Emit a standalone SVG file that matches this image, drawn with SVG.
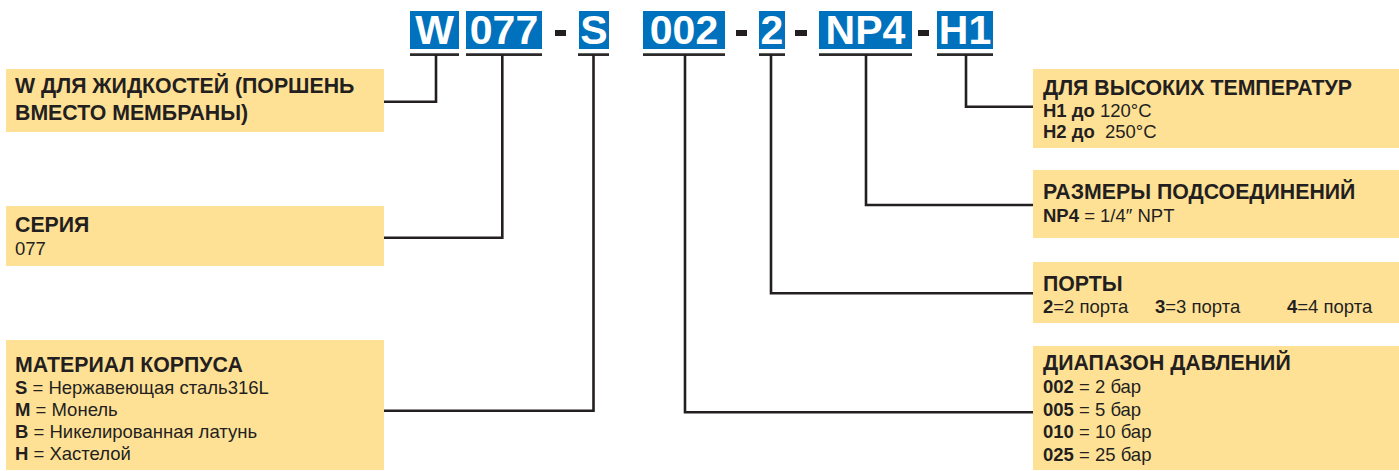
<svg xmlns="http://www.w3.org/2000/svg" width="1399" height="471" viewBox="0 0 1399 471">
<style>
.box{fill:#FFE196}
.code{fill:#0071BC}
.ct{font-family:"Liberation Sans",Arial,sans-serif;font-weight:bold;font-size:41px;fill:#fff;text-anchor:middle}
.dash{fill:#231F20}
.ul{stroke:#2b2b2b;stroke-width:2.8;fill:none}
.con{stroke:#231F20;stroke-width:2.6;fill:none}
.h{font-family:"Liberation Sans",Arial,sans-serif;font-weight:bold;font-size:21.3px;fill:#231F20}
.t{font-family:"Liberation Sans",Arial,sans-serif;font-size:18.5px;fill:#231F20}
.b{font-weight:bold}
</style>
<g id="code">
<rect class="code" x="410" y="11" width="49" height="38"/><text class="ct" x="434.5" y="43.5">W</text>
<rect class="code" x="466" y="11" width="76" height="38"/><text class="ct" x="504" y="43.5">077</text>
<rect class="dash" x="555" y="30" width="11" height="6"/>
<rect class="code" x="579" y="11" width="30" height="38"/><text class="ct" x="594" y="43.5">S</text>
<rect class="code" x="643" y="11" width="82" height="38"/><text class="ct" x="684" y="43.5">002</text>
<rect class="dash" x="736" y="30" width="11" height="6"/>
<rect class="code" x="759" y="11" width="26" height="38"/><text class="ct" x="772" y="43.5">2</text>
<rect class="dash" x="795" y="30" width="12" height="6"/>
<rect class="code" x="819" y="11" width="93" height="38"/><text class="ct" x="865.5" y="43.5">NP4</text>
<rect class="dash" x="918" y="30" width="11" height="6"/>
<rect class="code" x="937" y="11" width="56" height="38"/><text class="ct" x="965" y="43.5">H1</text>
</g>
<g id="connectors">
<path class="ul" d="M410 54.7H459M466 54.7H542M578 54.7H609M643 54.7H725M759 54.7H785M819 54.7H912M937 54.7H993"/>
<path class="con" d="M436 54.7V101.7H384"/>
<path class="con" d="M502.3 54.7V237.7H384"/>
<path class="con" d="M593.5 54.7V410.7H384"/>
<path class="con" d="M685 54.7V412.3H1033"/>
<path class="con" d="M771 54.7V293.3H1033"/>
<path class="con" d="M866 54.7V205H1033"/>
<path class="con" d="M966 54.7V106.7H1033"/>
</g>
<g id="node-w">
<rect class="box" x="6" y="69" width="378" height="63"/>
<text class="h" x="15" y="93.3">W ДЛЯ ЖИДКОСТЕЙ (ПОРШЕНЬ</text>
<text class="h" x="15" y="120">ВМЕСТО МЕМБРАНЫ)</text>
</g>
<g id="node-series">
<rect class="box" x="6" y="206" width="378" height="60"/>
<text class="h" x="15" y="232.3">СЕРИЯ</text>
<text class="t" x="15" y="255">077</text>
</g>
<g id="node-material">
<rect class="box" x="6" y="340" width="378" height="130"/>
<text class="h" x="15" y="371.7">МАТЕРИАЛ КОРПУСА</text>
<text class="t" x="15" y="394"><tspan class="b">S</tspan> = Нержавеющая сталь316L</text>
<text class="t" x="15" y="416"><tspan class="b">M</tspan> = Монель</text>
<text class="t" x="15" y="438.3"><tspan class="b">B</tspan> = Никелированная латунь</text>
<text class="t" x="15" y="460"><tspan class="b">H</tspan> = Хастелой</text>
</g>
<g id="node-temp">
<rect class="box" x="1033" y="69" width="366" height="79"/>
<text class="h" x="1043" y="95">ДЛЯ ВЫСОКИХ ТЕМПЕРАТУР</text>
<text class="t" x="1043" y="117.3"><tspan class="b">H1 до</tspan> 120°C</text>
<text class="t" x="1043" y="138.3"><tspan class="b">H2 до</tspan> <tspan dx="5">250°C</tspan></text>
</g>
<g id="node-conn">
<rect class="box" x="1033" y="170" width="366" height="68"/>
<text class="h" x="1043" y="199.3">РАЗМЕРЫ ПОДСОЕДИНЕНИЙ</text>
<text class="t" x="1043" y="221.7"><tspan class="b">NP4</tspan> = 1/4″ NPT</text>
</g>
<g id="node-ports">
<rect class="box" x="1033" y="262" width="366" height="61"/>
<text class="h" x="1043" y="291">ПОРТЫ</text>
<text class="t" x="1043" y="313.3"><tspan class="b">2</tspan>=2 порта</text>
<text class="t" x="1155" y="313.3"><tspan class="b">3</tspan>=3 порта</text>
<text class="t" x="1287" y="313.3"><tspan class="b">4</tspan>=4 порта</text>
</g>
<g id="node-pressure">
<rect class="box" x="1033" y="346" width="366" height="124"/>
<text class="h" x="1043" y="370">ДИАПАЗОН ДАВЛЕНИЙ</text>
<text class="t" x="1043" y="393.3"><tspan class="b">002</tspan> = 2 бар</text>
<text class="t" x="1043" y="415.7"><tspan class="b">005</tspan> = 5 бар</text>
<text class="t" x="1043" y="438.3"><tspan class="b">010</tspan> = 10 бар</text>
<text class="t" x="1043" y="460.7"><tspan class="b">025</tspan> = 25 бар</text>
</g>
</svg>
